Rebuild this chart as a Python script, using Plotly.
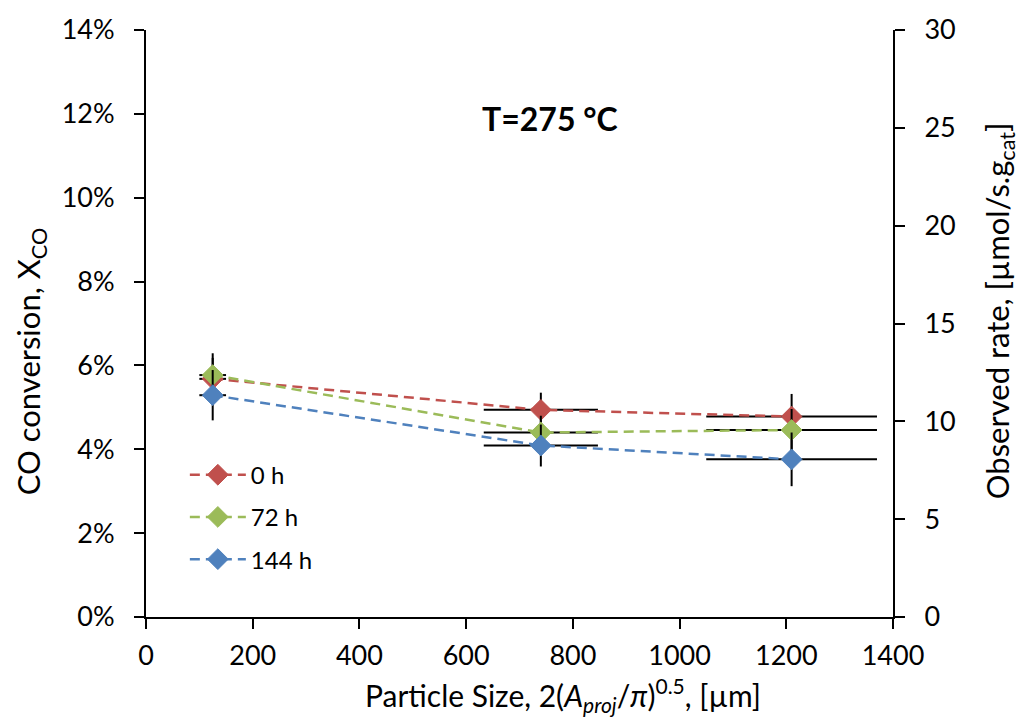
import plotly.graph_objects as go

# Particle size (µm) and its spread
size_um = [125, 740, 1210]
size_err = [25, 107, 160]

# CO conversion (%) after each time on stream, with error
conv_0h = [5.68, 4.94, 4.78]
conv_72h = [5.77, 4.40, 4.46]
conv_144h = [5.29, 4.09, 3.76]
err_0h = [0.50, 0.41, 0.54]
err_72h = [0.52, 0.40, 0.50]
err_144h = [0.60, 0.50, 0.64]

series_names = ["0 h", "72 h", "144 h"]
series_colors = ["#C0504D", "#9BBB59", "#4F81BD"]

FONT = "Lato"
TICK_SIZE = 27

fig = go.Figure()

for name, color, conv, err in zip(
        series_names, series_colors,
        [conv_0h, conv_72h, conv_144h],
        [err_0h, err_72h, err_144h]):
    fig.add_trace(go.Scatter(
        x=size_um,
        y=[c / 100 for c in conv],
        name=name,
        legendgroup=name,
        mode="lines+markers",
        line=dict(color=color, width=2.5, dash="10px,6px"),
        marker=dict(symbol="diamond", size=16, color=color,
                    line=dict(color=color, width=1)),
        error_y=dict(type="data", array=[e / 100 for e in err],
                     color="black", thickness=2, width=0),
        error_x=dict(type="data", array=size_err,
                     color="black", thickness=2, width=0),
    ))

# Secondary axis for the observed rate
fig.add_trace(go.Scatter(x=[], y=[], yaxis="y2", showlegend=False,
                         hoverinfo="skip"))

# Temperature label and axis titles
fig.add_annotation(
    text="<b>T=275 °C</b>", x=0.541, y=0.85, xref="paper", yref="paper",
    xanchor="center", yanchor="middle",
    showarrow=False, font=dict(family=FONT, size=32, color="black"),
)
fig.add_annotation(
    text="Particle Size, 2(<i>A</i><sub><i>proj</i></sub>/<i>π</i>)<sup>0.5</sup>, [µm]",
    x=0.558, y=-0.133, xref="paper", yref="paper",
    xanchor="center", yanchor="middle", showarrow=False,
    font=dict(family=FONT, size=30, color="black"),
)
fig.add_annotation(
    text="CO conversion, X<sub>CO</sub>", textangle=-90,
    x=-0.155, y=0.436, xref="paper", yref="paper",
    xanchor="center", yanchor="middle", showarrow=False,
    font=dict(family=FONT, size=31, color="black"),
)
fig.add_annotation(
    text="Observed rate, [µmol/s.g<sub>cat</sub>]", textangle=-90,
    x=1.142, y=0.521, xref="paper", yref="paper",
    xanchor="center", yanchor="middle", showarrow=False,
    font=dict(family=FONT, size=31, color="black"),
)

axis_common = dict(
    showline=True, linecolor="black", linewidth=2,
    ticks="outside", ticklen=10, tickwidth=1.5, tickcolor="black",
    showgrid=False, zeroline=False,
    tickfont=dict(family=FONT, size=TICK_SIZE, color="black"),
)

fig.update_layout(
    width=1020, height=725,
    margin=dict(l=146, r=127, t=30, b=108),
    paper_bgcolor="white", plot_bgcolor="white",
    font=dict(family=FONT, size=TICK_SIZE, color="black"),
    showlegend=True,
    legend=dict(x=0.052, y=0.28, xanchor="left", yanchor="top",
                font=dict(family=FONT, size=24, color="black"),
                bgcolor="rgba(0,0,0,0)", tracegroupgap=8,
                itemwidth=56),
    xaxis=dict(range=[0, 1400], dtick=200, tick0=0,
               ticklabelstandoff=4, **axis_common),
    yaxis=dict(range=[0, 0.14], dtick=0.02, tickformat=".0%",
               ticklabelstandoff=14, **axis_common),
    yaxis2=dict(range=[0, 30], dtick=5, overlaying="y", side="right",
                ticklabelstandoff=14, **axis_common),
)

fig.write_html("out.html")
